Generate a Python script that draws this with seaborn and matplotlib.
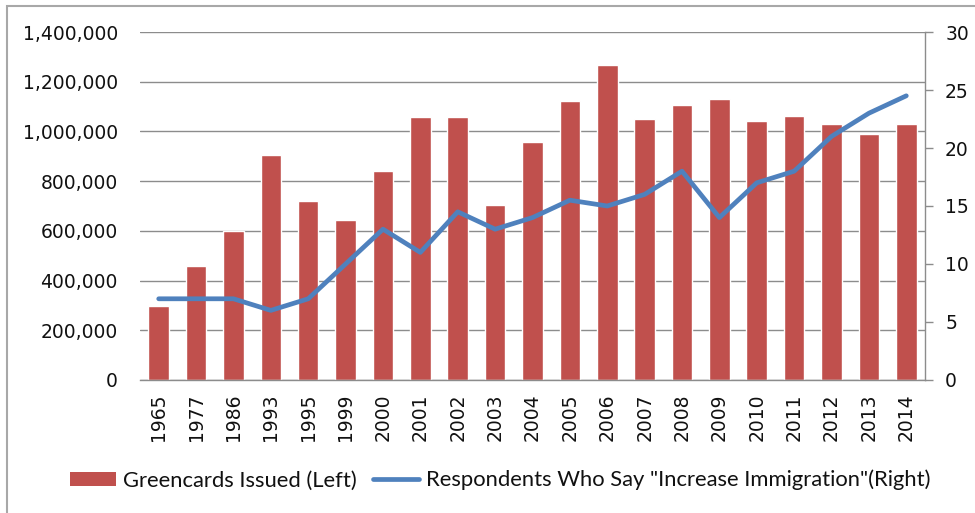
import matplotlib
matplotlib.use("Agg")
import matplotlib.pyplot as plt
from matplotlib.patches import Rectangle, Patch
from matplotlib.lines import Line2D
from matplotlib.ticker import FuncFormatter, MultipleLocator
import seaborn as sns
import pandas as pd
import numpy as np

years = ["1965", "1977", "1986", "1993", "1995", "1999", "2000", "2001", "2002",
         "2003", "2004", "2005", "2006", "2007", "2008", "2009", "2010", "2011",
         "2012", "2013", "2014"]
greencards = [297000, 458000, 601000, 904000, 720000, 645000, 841000, 1059000,
              1059000, 704000, 958000, 1122000, 1266000, 1052000, 1107000,
              1130000, 1042000, 1062000, 1031000, 991000, 1030000]
increase_pct = [7, 7, 7, 6, 7, 10, 13, 11, 14.5, 13, 14, 15.5, 15, 16, 18, 14,
                17, 18, 21, 23, 24.5]

bar_label = "Greencards Issued (Left)"
line_label = 'Respondents Who Say "Increase Immigration"(Right)'

BAR_COLOR = "#C0504D"
LINE_COLOR = "#4F81BD"
GRID_COLOR = "#8C8C8C"
TEXT_COLOR = "#111111"

df = pd.DataFrame({"year": years, "greencards": greencards, "pct": increase_pct})
df["pos"] = np.arange(len(df))

sns.set_theme(style="white")
plt.rcParams["font.family"] = ["DejaVu Sans"]

fig = plt.figure(figsize=(9.75, 5.13), dpi=100)
ax = fig.add_axes([0.1436, 0.2593, 0.9487 - 0.1436, 0.9376 - 0.2593])

sns.barplot(data=df, x="year", y="greencards", color=BAR_COLOR, saturation=1,
            width=0.55, ax=ax, zorder=2)
ax.set_xlim(-0.5, len(df) - 0.5)
ax.set_ylim(0, 1400000)
ax.yaxis.set_major_locator(MultipleLocator(200000))
ax.yaxis.set_major_formatter(FuncFormatter(lambda v, p: f"{int(v):,}"))
ax.grid(axis="y", color=GRID_COLOR, linewidth=1.0, zorder=0)
ax.set_axisbelow(True)
ax.set_xlabel("")
ax.set_ylabel("")
for side in ["left", "top", "right"]:
    ax.spines[side].set_visible(False)
ax.spines["bottom"].set_color(GRID_COLOR)
ax.spines["bottom"].set_linewidth(1.0)
ax.tick_params(axis="y", length=0, pad=16, labelsize=13.5, labelcolor=TEXT_COLOR)
ax.tick_params(axis="x", length=0, pad=10, labelsize=13.5, labelcolor=TEXT_COLOR,
               rotation=90)

ax2 = ax.twinx()
sns.lineplot(data=df, x="pos", y="pct", color=LINE_COLOR, linewidth=3.4, ax=ax2,
             solid_joinstyle="round", solid_capstyle="round", zorder=3)
ax2.set_ylim(0, 30)
ax2.set_xlim(-0.5, len(df) - 0.5)
ax2.yaxis.set_major_locator(MultipleLocator(5))
ax2.set_ylabel("")
ax2.set_xlabel("")
ax2.grid(False)
for side in ["left", "top", "bottom"]:
    ax2.spines[side].set_visible(False)
ax2.spines["right"].set_visible(True)
ax2.spines["right"].set_color(GRID_COLOR)
ax2.spines["right"].set_linewidth(1.0)
ax2.tick_params(axis="y", right=True, direction="out", length=5.5, width=1.0,
                color=GRID_COLOR, pad=9, labelsize=13.5, labelcolor=TEXT_COLOR)
ax2.set_xticks(df["pos"])
ax2.set_xticklabels(years)

handles = [Patch(facecolor=BAR_COLOR, edgecolor="none"),
           Line2D([], [], color=LINE_COLOR, linewidth=3.4)]
fig.legend(handles, [bar_label, line_label], loc="center", ncol=2,
           bbox_to_anchor=(0.513, 0.064), frameon=False,
           prop={"family": ["Lato", "DejaVu Sans"], "size": 15.8},
           labelcolor=TEXT_COLOR, handlelength=2.1, handleheight=0.6,
           handletextpad=0.3, columnspacing=0.75)

fig.patches.append(Rectangle((7 / 975, -0.05), 1.2, 1.05 - 6 / 513,
                             transform=fig.transFigure, fill=False,
                             edgecolor="#A8A8A8", linewidth=1.5))

fig.savefig("out.png", dpi=100)
